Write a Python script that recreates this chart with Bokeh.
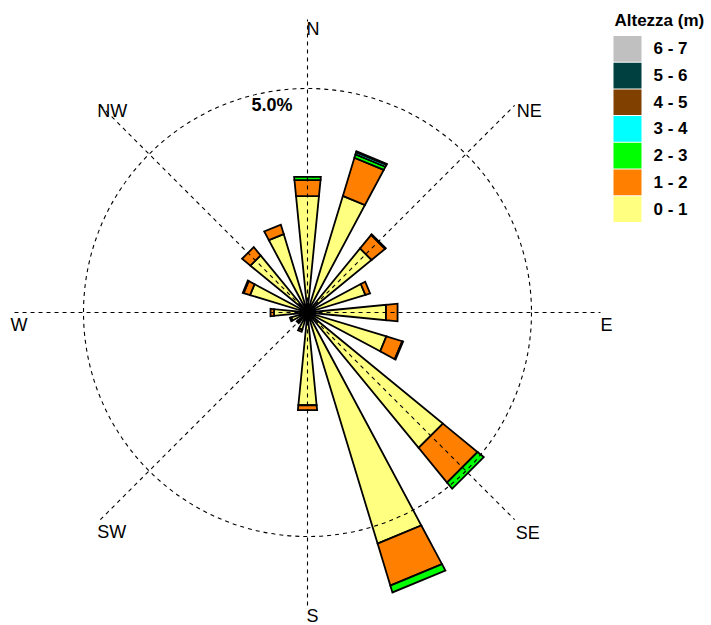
from math import sin, cos, radians

from bokeh.plotting import figure
from bokeh.models import ColumnDataSource, Range1d
from bokeh.core.properties import value
from bokeh.embed import file_html
from bokeh.resources import INLINE

# ---- data: wave-height rose, frequency (%) per direction sector and height class
directions = [0.0, 22.5, 45.0, 67.5, 90.0, 112.5, 135.0, 157.5,
              180.0, 202.5, 225.0, 247.5, 270.0, 292.5, 315.0, 337.5]
class_labels = ["0 - 1", "1 - 2", "2 - 3", "3 - 4", "4 - 5", "5 - 6", "6 - 7"]
class_colors = ["#FFFF80", "#FF8000", "#00FF00", "#00FFFF", "#804000", "#004040", "#C0C0C0"]

h_0_1 = [2.61, 2.72, 1.85, 1.35, 1.76, 1.84, 3.91, 5.39, 2.08, 0.40, 0.28, 0.38, 0.75, 1.34, 1.65, 1.83]
h_1_2 = [0.36, 0.89, 0.39, 0.11, 0.26, 0.37, 1.00, 0.98, 0.11, 0.05, 0.03, 0.03, 0.08, 0.15, 0.24, 0.22]
h_2_3 = [0.07, 0.08, 0.02, 0.00, 0.00, 0.02, 0.18, 0.16, 0.00, 0.00, 0.00, 0.00, 0.00, 0.02, 0.00, 0.00]
h_3_4 = [0.00, 0.05, 0.00, 0.00, 0.00, 0.00, 0.00, 0.00, 0.00, 0.00, 0.00, 0.00, 0.00, 0.00, 0.00, 0.00]
h_4_5 = [0.00, 0.02, 0.00, 0.00, 0.00, 0.00, 0.00, 0.00, 0.00, 0.00, 0.00, 0.00, 0.00, 0.00, 0.00, 0.00]
h_5_6 = [0.0] * 16
h_6_7 = [0.0] * 16
classes = [h_0_1, h_1_2, h_2_3, h_3_4, h_4_5, h_5_6, h_6_7]

ring_value = 5.0
ring_label = "5.0%"
compass_labels = ["N", "NE", "E", "SE", "S", "SW", "W", "NW"]
compass_angles = [0, 45, 90, 135, 180, 225, 270, 315]
legend_title = "Altezza (m)"

# ---- geometry of the canvas (pixels) and the polar scale
W, H = 711, 625
CX, CY = 307, 312           # pole position on the canvas
SCALE = 44.8                # pixels per percent
AXIS_LEN = 6.54             # length of the compass spokes, in percent
HALF_W = 5.625              # half angular width of a sector bar, degrees


def px_x(px):
    return (px - CX) / SCALE


def px_y(py):
    return (CY - py) / SCALE


def polar(r, theta):
    t = radians(theta)
    return r * sin(t), r * cos(t)


p = figure(width=W, height=H, output_backend="svg", toolbar_location=None,
           x_range=Range1d(px_x(0), px_x(W)), y_range=Range1d(px_y(H), px_y(0)),
           x_axis_type=None, y_axis_type=None, min_border=0)
p.grid.visible = False
p.outline_line_color = None
p.background_fill_color = "white"
p.border_fill_color = "white"

# ---- stacked sector bars (trapezoids with straight outer edges)
xs, ys, fills = [], [], []
for i, theta in enumerate(directions):
    r0 = 0.0
    for k, series in enumerate(classes):
        v = series[i]
        if v <= 0:
            continue
        r1 = r0 + v
        pts = [polar(r0, theta - HALF_W), polar(r1, theta - HALF_W),
               polar(r1, theta + HALF_W), polar(r0, theta + HALF_W)]
        xs.append([q[0] for q in pts])
        ys.append([q[1] for q in pts])
        fills.append(class_colors[k])
        r0 = r1

bars = ColumnDataSource(dict(xs=xs, ys=ys, fill=fills))
p.patches("xs", "ys", source=bars, fill_color="fill", line_color="black",
          line_width=1.8, line_join="miter")

# ---- dashed compass spokes and reference ring, drawn over the bars
ends = [polar(AXIS_LEN, a) for a in compass_angles[:4]]
p.segment(x0=[-e[0] for e in ends], y0=[-e[1] for e in ends],
          x1=[e[0] for e in ends], y1=[e[1] for e in ends],
          line_color="black", line_width=1.1, line_dash="4 4")
p.circle(x=[0], y=[0], radius=ring_value, fill_color=None,
         line_color="black", line_width=1.1, line_dash="4 4")

# ---- compass labels at the spoke ends
lab_pts = [polar(AXIS_LEN, a) for a in compass_angles]
x_off = [-1, 2, 0, 1, -1, -3, -4, -3]
y_off = [-1, -4, 2, 3, 1, 2, 2, -4]
p.text(x=[q[0] for q in lab_pts], y=[q[1] for q in lab_pts], text=compass_labels,
       x_offset=x_off, y_offset=y_off, text_align="left", text_baseline="top",
       text_font=value("Liberation Sans"), text_font_size=value("18px"),
       text_color="black")

# ---- ring value label
p.text(x=[0], y=[ring_value], text=[ring_label], x_offset=-15, y_offset=16,
       text_align="right", text_baseline="middle",
       text_font=value("Liberation Sans"), text_font_size=value("18px"),
       text_font_style="bold", text_color="black")

# ---- legend (top right)
row_h = 26.7
box_left, box_w = 613, 28
top0 = 35
order = list(range(len(class_labels)))[::-1]   # highest class on top
lx, ly, lc, lt = [], [], [], []
for row, k in enumerate(order):
    yc = top0 + row * row_h + row_h / 2
    lx.append(px_x(box_left + box_w / 2))
    ly.append(px_y(yc))
    lc.append(class_colors[k])
    lt.append(class_labels[k])
p.rect(x=lx, y=ly, width=box_w, height=row_h - 1, width_units="screen",
       height_units="screen", fill_color=lc, line_color=None)
p.text(x=[px_x(653)] * len(lt), y=ly, text=lt, text_align="left",
       text_baseline="middle", text_font=value("Liberation Sans"),
       text_font_size=value("17px"), text_font_style="bold", text_color="black")
p.text(x=[px_x(614)], y=[px_y(20)], text=[legend_title], text_align="left",
       text_baseline="middle", text_font=value("Liberation Sans"),
       text_font_size=value("17px"), text_font_style="bold", text_color="black")

open("out.html", "w").write(file_html(p, INLINE))
